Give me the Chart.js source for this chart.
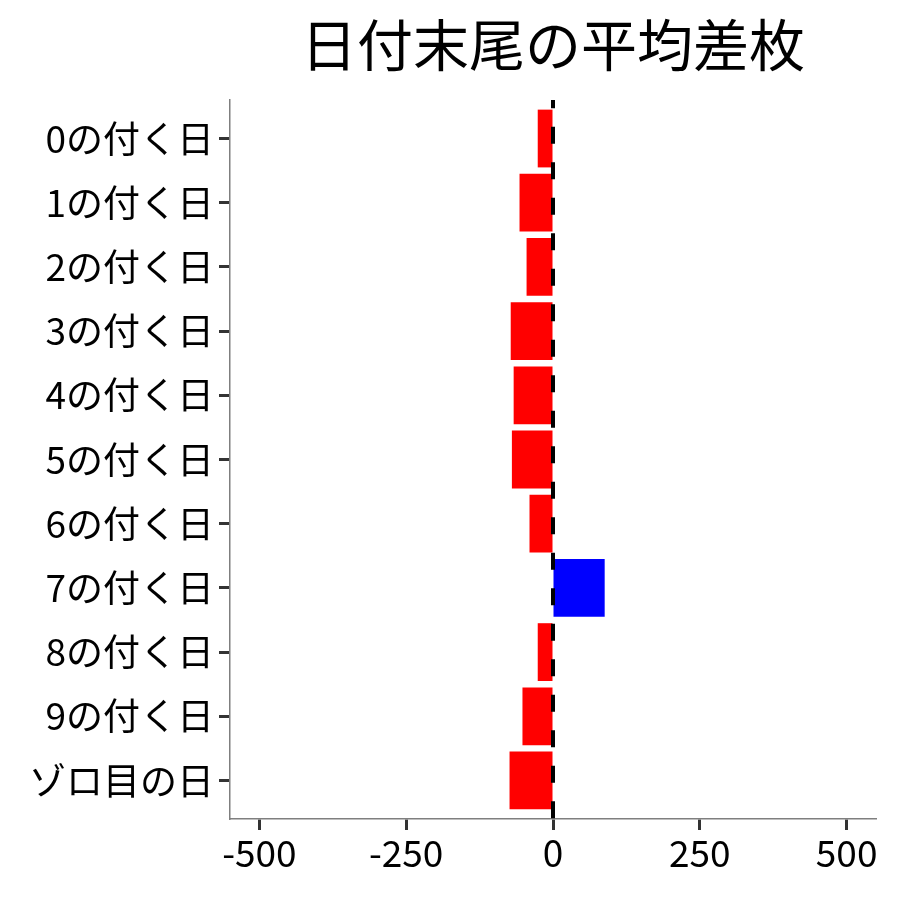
<!DOCTYPE html>
<html>
<head>
<meta charset="utf-8">
<script src="https://cdn.jsdelivr.net/npm/chart.js@4"></script>
<style>
  html, body { margin: 0; padding: 0; background: #fff; }
  #wrap { width: 900px; height: 900px; }
</style>
</head>
<body>
<div id="wrap"><canvas id="chart"></canvas></div>
<script>
const titleText = '日付末尾の平均差枚';
const categories = ['0の付く日', '1の付く日', '2の付く日', '3の付く日', '4の付く日', '5の付く日',
  '6の付く日', '7の付く日', '8の付く日', '9の付く日', 'ゾロ目の日'];
const diffValues = [-26, -57, -45, -72, -67, -70, -40, 88, -26, -52, -74];
const xTicks = [-500, -250, 0, 250, 500];

const FONT = '"Noto Sans CJK JP", "Noto Sans", sans-serif';

// dashed reference line at x = 0 plus the title centred over the panel
const zeroLine = {
  id: 'zeroLine',
  afterDatasetsDraw(chart) {
    const { ctx, chartArea, scales } = chart;
    const x = scales.x.getPixelForValue(0);
    ctx.save();
    ctx.beginPath();
    ctx.rect(chartArea.left, chartArea.top, chartArea.right - chartArea.left, chartArea.bottom - chartArea.top);
    ctx.clip();
    ctx.strokeStyle = '#000';
    ctx.lineWidth = 4;
    ctx.setLineDash([17, 18.5]);
    ctx.lineDashOffset = 8.8;
    ctx.beginPath();
    ctx.moveTo(x, chartArea.top);
    ctx.lineTo(x, chartArea.bottom);
    ctx.stroke();
    ctx.restore();
  },
  afterDraw(chart) {
    const { ctx, chartArea } = chart;
    ctx.save();
    ctx.fillStyle = '#000';
    ctx.font = '56px ' + FONT;
    ctx.textAlign = 'center';
    ctx.textBaseline = 'middle';
    ctx.fillText(titleText, (chartArea.left + chartArea.right) / 2, 45);
    ctx.restore();
  }
};

new Chart(document.getElementById('chart'), {
  type: 'bar',
  data: {
    datasets: [{
      data: diffValues.map((v, i) => ({ x: v, y: i })),
      backgroundColor: diffValues.map((v) => (v < 0 ? '#ff0000' : '#0000ff')),
      borderWidth: 0,
      barPercentage: 0.9,
      categoryPercentage: 1,
    }],
  },
  options: {
    indexAxis: 'y',
    responsive: true,
    maintainAspectRatio: false,
    animation: false,
    layout: { padding: { top: 100, right: 24, bottom: 0, left: 0 } },
    scales: {
      x: {
        type: 'linear',
        min: -550,
        max: 550,
        afterBuildTicks: (scale) => {
          scale.ticks = xTicks.map((v) => ({ value: v }));
        },
        afterFit: (scale) => {
          scale.height = 81;
        },
        grid: {
          drawOnChartArea: false,
          drawTicks: true,
          tickLength: 11,
          tickColor: '#333333',
          tickWidth: 3,
        },
        border: { color: '#7f7f7f', width: 1.5 },
        ticks: {
          color: '#000',
          font: { family: FONT, size: 37 },
          padding: 1,
          maxRotation: 0,
        },
      },
      y: {
        type: 'linear',
        min: -0.6,
        max: categories.length - 0.4,
        reverse: true,
        offset: false,
        afterBuildTicks: (scale) => {
          scale.ticks = categories.map((c, i) => ({ value: i }));
        },
        afterFit: (scale) => {
          scale.width = 230;
        },
        grid: {
          offset: false,
          drawOnChartArea: false,
          drawTicks: true,
          tickLength: 11,
          tickColor: '#333333',
          tickWidth: 3,
        },
        border: { color: '#7f7f7f', width: 1.5 },
        ticks: {
          color: '#000',
          font: { family: FONT, size: 37 },
          padding: 5,
          autoSkip: false,
          callback: (value) => categories[value],
        },
      },
    },
    plugins: {
      legend: { display: false },
      tooltip: { enabled: false },
    },
  },
  plugins: [zeroLine],
});
</script>
</body>
</html>
